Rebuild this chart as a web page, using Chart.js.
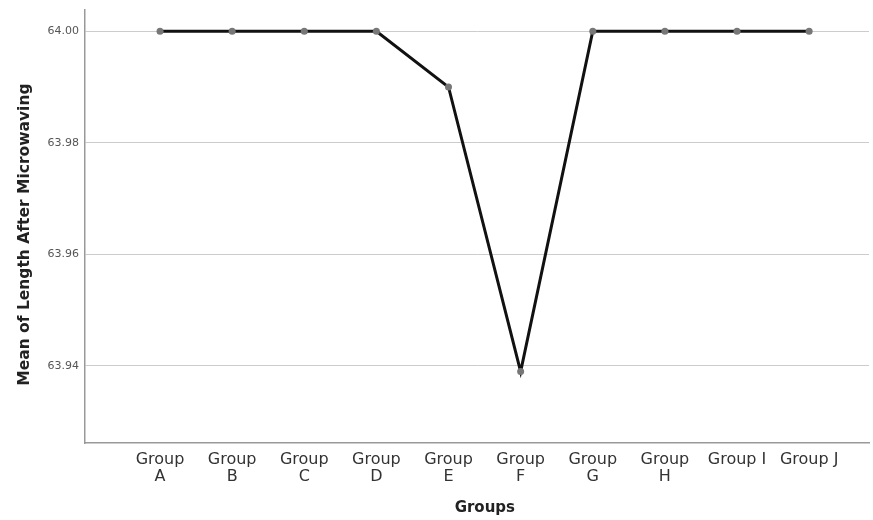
<!DOCTYPE html>
<html>
<head>
<meta charset="utf-8">
<script src="https://cdn.jsdelivr.net/npm/chart.js@4"></script>
<style>
  html, body { margin: 0; padding: 0; background: #fff; }
  #wrap { width: 873px; height: 520px; }
</style>
</head>
<body>
<div id="wrap"><canvas id="chartMean"></canvas></div>
<script>
// DATOS
const groups = ['Group A', 'Group B', 'Group C', 'Group D', 'Group E', 'Group F', 'Group G', 'Group H', 'Group I', 'Group J'];
const groupTicks = [['Group', 'A'], ['Group', 'B'], ['Group', 'C'], ['Group', 'D'], ['Group', 'E'],
                    ['Group', 'F'], ['Group', 'G'], ['Group', 'H'], 'Group I', 'Group J'];
const meanLength = [64.00, 64.00, 64.00, 64.00, 63.99, 63.939, 64.00, 64.00, 64.00, 64.00];
const yTicks = [63.94, 63.96, 63.98, 64.00];

Chart.defaults.font.family = 'DejaVu Sans';
Chart.defaults.color = '#333';

// títulos un poco descentrados como en el original (espacios al final)
new Chart(document.getElementById('chartMean'), {
    type: 'line',
    data: {
        datasets: [{
            label: 'Mean of Length After Microwaving',
            data: meanLength.map((v, i) => ({ x: i, y: v })),
            borderColor: '#111',
            borderWidth: 3,
            pointRadius: 3.5,
            pointBackgroundColor: '#777',
            pointBorderColor: '#777',
            pointBorderWidth: 0,
            tension: 0
        }]
    },
    options: {
        responsive: true,
        maintainAspectRatio: false,
        animation: false,
        layout: { padding: { top: 10, right: 1, left: 0, bottom: 0 } },
        plugins: { legend: { display: false }, tooltip: { enabled: false } },
        scales: {
            x: {
                type: 'linear',
                min: -1.04,
                max: 9.83,
                afterBuildTicks: s => { s.ticks = groups.map((g, i) => ({ value: i })); },
                afterFit: s => { s.height = 77; s.paddingLeft = 0; s.paddingRight = 0; },
                grid: { display: false, drawTicks: false },
                border: { color: '#999', width: 1.5 },
                ticks: {
                    padding: 8,
                    maxRotation: 0,
                    autoSkip: false,
                    color: '#333',
                    font: { size: 16, lineHeight: 1.08 },
                    callback: v => groupTicks[v]
                },
                title: {
                    display: true,
                    text: '   Groups',
                    color: '#222',
                    font: { size: 15, weight: 'bold' },
                    padding: { top: 0, bottom: 3 }
                }
            },
            y: {
                min: 63.9262,
                max: 64.0038,
                afterBuildTicks: s => { s.ticks = yTicks.map(v => ({ value: v })); },
                afterFit: s => { s.width = 85; s.paddingTop = 0; s.paddingBottom = 0; },
                grid: { color: '#ccc', lineWidth: 1, drawTicks: false },
                border: { color: '#999', width: 1.5 },
                ticks: {
                    padding: 6,
                    color: '#555',
                    font: { size: 11 },
                    callback: v => v.toFixed(2)
                },
                title: {
                    display: true,
                    text: 'Mean of Length After Microwaving   ',
                    color: '#222',
                    font: { size: 15.5, weight: 'bold' },
                    padding: { top: 16, bottom: 0 }
                }
            }
        }
    }
});
</script>
</body>
</html>
